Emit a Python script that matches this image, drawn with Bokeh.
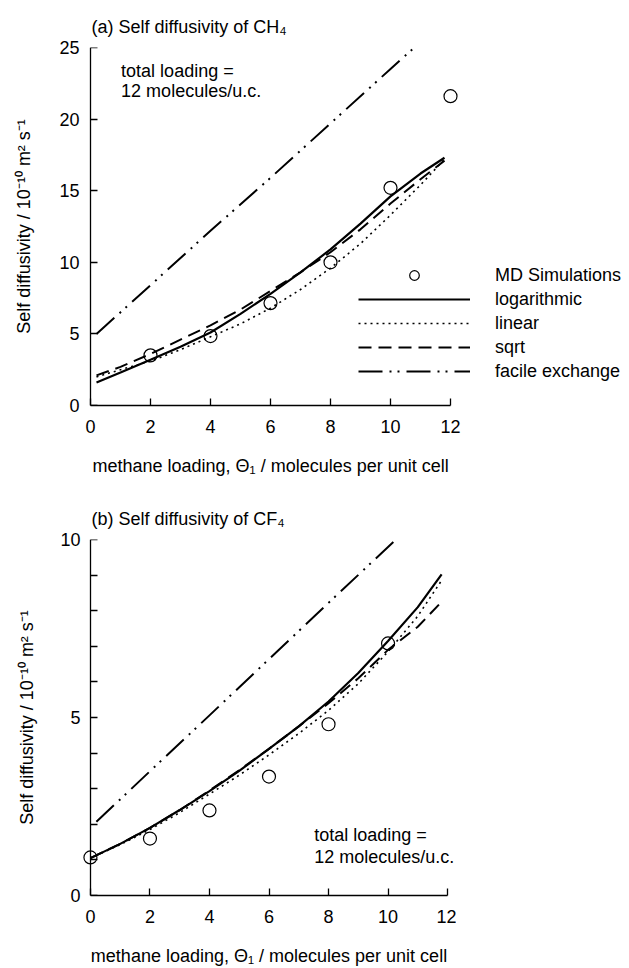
from bokeh.plotting import figure
from bokeh.models import Range1d, FixedTicker, Label, Legend, LegendItem, LinearAxis, Title
from bokeh.layouts import column
from bokeh.embed import file_html
from bokeh.resources import INLINE

# ---------------- data ----------------
# (a) CH4 self diffusivity, 10^-10 m2/s
theta_a = [0.2, 1, 2, 3, 4, 5, 6, 7, 8, 9, 10, 11, 11.8]
log_a = [1.6, 2.3, 3.2, 4.1, 5.1, 6.4, 7.8, 9.3, 10.9, 12.7, 14.6, 16.2, 17.3]
lin_a = [2.0, 2.5, 3.1, 3.9, 4.8, 5.7, 6.8, 8.1, 9.6, 11.3, 13.3, 15.4, 17.2]
sqrt_a = [2.1, 2.7, 3.6, 4.6, 5.6, 6.7, 8.0, 9.3, 10.7, 12.3, 14.1, 15.8, 17.1]
theta_fa = [0.2, 2, 4, 6, 8, 10, 11.8]
facile_a = [5.0, 8.4, 12.2, 15.9, 19.7, 23.5, 26.9]
md_theta_a = [2, 4, 6, 8, 10, 12]
md_a = [3.5, 4.85, 7.15, 10.0, 15.2, 21.6]

# (b) CF4 self diffusivity, 10^-10 m2/s
theta_b = [0, 1, 2, 3, 4, 5, 6, 7, 8, 9, 10, 11, 11.8]
log_b = [1.05, 1.45, 1.9, 2.4, 2.93, 3.5, 4.12, 4.75, 5.45, 6.25, 7.15, 8.1, 9.02]
lin_b = [1.05, 1.43, 1.85, 2.33, 2.85, 3.38, 3.95, 4.55, 5.2, 5.95, 6.85, 7.85, 8.85]
sqrt_b = [1.05, 1.45, 1.9, 2.4, 2.95, 3.52, 4.12, 4.75, 5.4, 6.1, 6.9, 7.55, 8.25]
theta_fb = [0.2, 2, 4, 6, 8, 10, 11.8]
facile_b = [2.07, 3.49, 5.06, 6.64, 8.22, 9.79, 11.2]
md_theta_b = [0, 2, 4, 6, 8, 10]
md_b = [1.07, 1.6, 2.39, 3.34, 4.81, 7.08]

x_ticks = [0, 2, 4, 6, 8, 10, 12]
y_ticks_a = [0, 5, 10, 15, 20, 25]
y_marks_a = [0, 5, 10, 15, 20, 25]
y_ticks_b = [0, 5, 10]
y_marks_b = [0, 1, 2, 3, 4, 5, 6, 7, 8, 9, 10]

series_names = ["MD Simulations", "logarithmic", "linear", "sqrt", "facile exchange"]
title_a = "(a) Self diffusivity of CH\u2084"
title_b = "(b) Self diffusivity of CF\u2084"
x_title = "methane loading, \u0398\u2081 / molecules per unit cell"
y_title = "Self diffusivity / 10\u207b\u00b9\u2070 m\u00b2 s\u207b\u00b9"
note_1 = "total loading ="
note_2 = "12 molecules/u.c."

FONT = "Liberation Sans"
FS = "18px"
DASH_LIN = "2 4"
DASH_SQRT = "13 7"
DASH_FAC = "24 7 2 6 2 7"


def make_fig(width, height, x_end, ymax, border_left, border_top, border_bottom,
             yticks, ymarks, ylab_standoff, tick_standoff, xlab_standoff):
    p = figure(width=width, height=height, output_backend="svg", toolbar_location=None,
               x_range=Range1d(-0.3, x_end),
               y_range=Range1d(0, ymax),
               min_border_left=border_left, min_border_right=0,
               min_border_top=border_top, min_border_bottom=border_bottom)
    p.outline_line_color = None
    p.xgrid.grid_line_color = None
    p.ygrid.grid_line_color = None
    p.background_fill_color = "white"
    p.border_fill_color = "white"

    xa = p.xaxis[0]
    xa.axis_line_color = "black"
    xa.axis_line_width = 1.3
    xa.major_tick_line_color = "black"
    xa.major_tick_line_width = 1.3
    xa.major_tick_in = 7
    xa.major_tick_out = 0
    xa.minor_tick_in = 0
    xa.minor_tick_out = 0
    xa.major_label_text_font = FONT
    xa.major_label_text_font_size = FS
    xa.major_label_text_color = "black"
    xa.ticker = FixedTicker(ticks=x_ticks)
    xa.bounds = (0, 12)
    xa.major_label_standoff = 14
    if xlab_standoff is not None:
        xa.axis_label = x_title
        xa.axis_label_text_font = FONT
        xa.axis_label_text_font_size = FS
        xa.axis_label_text_font_style = "normal"
        xa.axis_label_text_color = "black"
        xa.axis_label_standoff = xlab_standoff

    # label-only y axis at the frame edge
    ya = p.yaxis[0]
    ya.ticker = FixedTicker(ticks=yticks)
    ya.axis_line_color = None
    ya.major_tick_line_color = None
    ya.minor_tick_line_color = None
    ya.major_tick_in = 0
    ya.major_tick_out = 0
    ya.minor_tick_in = 0
    ya.minor_tick_out = 0
    ya.major_label_standoff = tick_standoff
    ya.major_label_text_font = FONT
    ya.major_label_text_font_size = FS
    ya.major_label_text_color = "black"
    ya.axis_label = y_title
    ya.axis_label_text_font = FONT
    ya.axis_label_text_font_size = FS
    ya.axis_label_text_font_style = "normal"
    ya.axis_label_text_color = "black"
    ya.axis_label_standoff = ylab_standoff

    # axis line + tick marks placed at theta = 0 (ticks only, no labels)
    yl = LinearAxis(fixed_location=0, ticker=FixedTicker(ticks=[], minor_ticks=ymarks),
                    bounds=(0, ymax))
    yl.axis_line_color = "black"
    yl.axis_line_width = 1.3
    yl.major_tick_line_color = None
    yl.major_tick_in = 0
    yl.major_tick_out = 0
    yl.minor_tick_line_color = "black"
    yl.minor_tick_line_width = 1.3
    yl.minor_tick_in = 7
    yl.minor_tick_out = 0
    p.add_layout(yl, "left")
    return p


def add_note(p, x, y, text):
    p.add_layout(Label(x=x, y=y, text=text, text_font=FONT, text_font_size=FS,
                       text_color="black", text_align="left", text_baseline="middle"))


def add_title(p, top_text):
    p.title = Title(text=top_text, align="left", offset=10, standoff=22, text_font=FONT,
                    text_font_size=FS, text_font_style="normal", text_color="black")


def draw_series(p, th, lg, ln, sq, thf, fc, mth, md):
    r_md = p.scatter(mth, md, marker="circle", size=13, fill_color=None,
                     line_color="black", line_width=1.2)
    r_log = p.line(th, lg, line_color="black", line_width=2.2)
    r_lin = p.line(th, ln, line_color="black", line_width=1.6, line_dash=DASH_LIN)
    r_sqrt = p.line(th, sq, line_color="black", line_width=2.0, line_dash=DASH_SQRT)
    r_fac = p.line(thf, fc, line_color="black", line_width=2.0, line_dash=DASH_FAC)
    return [r_md, r_log, r_lin, r_sqrt, r_fac]


# ---------------- panel (a) ----------------
pa = make_fig(625, 495, -0.3 + (625 - 81) / 30.0, 25, 81, 47, 90,
              y_ticks_a, y_marks_a, 22, 2, None)
rs = draw_series(pa, theta_a, log_a, lin_a, sqrt_a, theta_fa, facile_a, md_theta_a, md_a)
legend = Legend(items=[LegendItem(label=n, renderers=[r]) for n, r in zip(series_names, rs)],
                location=(277, 22), padding=0, margin=0, spacing=0,
                glyph_width=112, glyph_height=24, label_height=24, label_standoff=25,
                label_text_font=FONT, label_text_font_size=FS, label_text_color="black",
                background_fill_alpha=0, border_line_color=None)
pa.add_layout(legend)
add_title(pa, title_a)
pa.add_layout(Title(text=x_title, align="left", offset=11, standoff=37, text_font=FONT,
                    text_font_size=FS, text_font_style="normal", text_color="black"),
              "below")
add_note(pa, 1.02, 23.35, note_1)
add_note(pa, 1.02, 21.95, note_2)

# ---------------- panel (b) ----------------
pb = make_fig(78 + 378, 473, 12.3, 10, 78, 42, 72,
              y_ticks_b, y_marks_b, 20, 1, 20)
draw_series(pb, theta_b, log_b, lin_b, sqrt_b, theta_fb, facile_b, md_theta_b, md_b)
add_title(pb, title_b)
add_note(pb, 7.52, 1.70, note_1)
add_note(pb, 7.52, 1.095, note_2)

layout = column(pa, pb, spacing=0)
open("out.html", "w").write(file_html(layout, INLINE))
